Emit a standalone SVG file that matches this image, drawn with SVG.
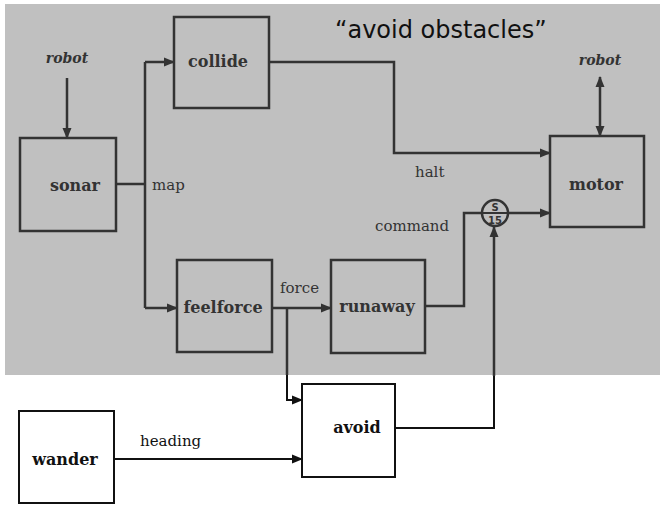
<svg xmlns="http://www.w3.org/2000/svg" width="664" height="524" viewBox="0 0 664 524">
<style>
.box{fill:none;stroke:#333;stroke-width:2.5}
.boxw{fill:#fff;stroke:#111;stroke-width:2}
.ln{fill:none;stroke:#333;stroke-width:2.5}
.lnw{fill:none;stroke:#111;stroke-width:2}
.node{font-family:"DejaVu Serif","Liberation Serif",serif;font-weight:bold;font-size:16px;fill:#333;text-anchor:middle}
.nodew{font-family:"DejaVu Serif","Liberation Serif",serif;font-weight:bold;font-size:16px;fill:#111;text-anchor:middle}
.lbl{font-family:"DejaVu Serif","Liberation Serif",serif;font-size:15px;fill:#333}
.lblw{font-family:"DejaVu Serif","Liberation Serif",serif;font-size:15px;fill:#111}
.rob{font-family:"DejaVu Serif","Liberation Serif",serif;font-style:italic;font-weight:bold;font-size:14px;fill:#333;text-anchor:middle}
.title{font-family:"DejaVu Sans","Open Sans",sans-serif;font-size:24px;fill:#111}
.sup{font-family:"DejaVu Sans","Liberation Sans",sans-serif;font-size:10px;font-weight:bold;fill:#333;text-anchor:middle}
</style>
<defs>
<marker id="ah" markerWidth="11" markerHeight="10" refX="10" refY="5" orient="auto" markerUnits="userSpaceOnUse">
<path d="M0,0.5 L11,5 L0,9.5 Z" fill="#333"/>
</marker>
<marker id="ahs" markerWidth="11" markerHeight="10" refX="1" refY="5" orient="auto" markerUnits="userSpaceOnUse">
<path d="M11,0.5 L0,5 L11,9.5 Z" fill="#333"/>
</marker>
<marker id="ahw" markerWidth="11" markerHeight="10" refX="10" refY="5" orient="auto" markerUnits="userSpaceOnUse">
<path d="M0,0.5 L11,5 L0,9.5 Z" fill="#111"/>
</marker>
</defs>
<rect x="5" y="4" width="655" height="371" fill="#c0c0c0"/>
<text class="title" x="335" y="38">“avoid obstacles”</text>

<g id="connectors">
<line class="ln" x1="67" y1="78" x2="67" y2="138" marker-end="url(#ah)"/>
<polyline class="ln" points="116,184 145,184"/>
<polyline class="ln" points="145,62 145,308"/>
<polyline class="ln" points="145,62 174,62" marker-end="url(#ah)"/>
<polyline class="ln" points="145,308 177,308" marker-end="url(#ah)"/>
<polyline class="ln" points="272,308 331,308" marker-end="url(#ah)"/>
<polyline class="ln" points="287,308 287,375"/>
<polyline class="lnw" points="287,375 287,400 302,400" marker-end="url(#ahw)"/>
<polyline class="ln" points="269,62 394,62 394,153 550,153" marker-end="url(#ah)"/>
<polyline class="ln" points="425,306 464,306 464,213 482,213"/>
<polyline class="ln" points="509,213 550,213" marker-end="url(#ah)"/>
<polyline class="lnw" points="395,428 494,428 494,375"/>
<polyline class="ln" points="494,376 494,227" marker-end="url(#ah)"/>
<polyline class="lnw" points="114,459 302,459" marker-end="url(#ahw)"/>
<line class="ln" x1="600" y1="77" x2="600" y2="136" marker-start="url(#ahs)" marker-end="url(#ah)"/>
<text class="rob" x="67" y="63">robot</text>
<text class="rob" x="600" y="65">robot</text>
<text class="lbl" x="152" y="190">map</text>
<text class="lbl" x="415" y="177">halt</text>
<text class="lbl" x="375" y="231">command</text>
<text class="lbl" x="280" y="293">force</text>
<text class="lblw" x="140" y="446">heading</text>
</g>

<g id="sonar">
<rect class="box" x="20" y="138" width="96" height="93"/>
<text class="node" x="75" y="191">sonar</text>
</g>
<g id="collide">
<rect class="box" x="174" y="17" width="95" height="91"/>
<text class="node" x="218" y="67">collide</text>
</g>
<g id="feelforce">
<rect class="box" x="177" y="260" width="95" height="92"/>
<text class="node" x="223" y="313">feelforce</text>
</g>
<g id="runaway">
<rect class="box" x="331" y="260" width="94" height="93"/>
<text class="node" x="377" y="312">runaway</text>
</g>
<g id="motor">
<rect class="box" x="550" y="136" width="94" height="91"/>
<text class="node" x="596" y="190">motor</text>
</g>
<g id="suppressor">
<circle cx="495" cy="213" r="13" fill="none" stroke="#333" stroke-width="2.5"/>
<line x1="482" y1="213" x2="508" y2="213" stroke="#333" stroke-width="2"/>
<text class="sup" x="495" y="211">S</text>
<text class="sup" x="495" y="224">15</text>
</g>
<g id="wander">
<rect class="boxw" x="19" y="411" width="95" height="92"/>
<text class="nodew" x="65" y="465">wander</text>
</g>
<g id="avoid">
<rect class="boxw" x="302" y="384" width="93" height="93"/>
<text class="nodew" x="357" y="433">avoid</text>
</g>
</svg>
